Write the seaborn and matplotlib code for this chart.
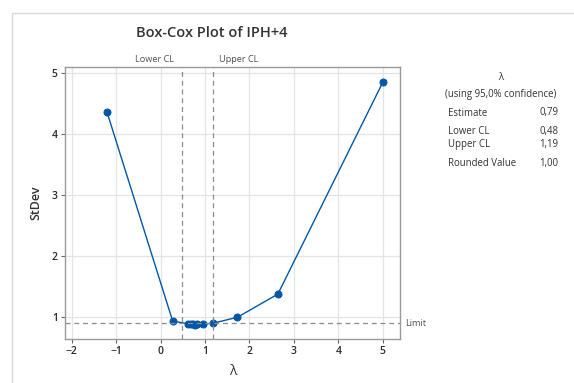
import matplotlib
matplotlib.use("Agg")
import matplotlib.pyplot as plt
import seaborn as sns
import pandas as pd
from matplotlib.patches import Rectangle

# Box-Cox search results: lambda vs. standard deviation of transformed data
lambdas = [-1.21, 0.27, 0.62, 0.68, 0.73, 0.77, 0.81, 0.95, 1.17, 1.73, 2.64, 5.00]
stdevs = [4.36, 0.93, 0.88, 0.875, 0.872, 0.871, 0.873, 0.88, 0.89, 0.99, 1.37, 4.84]

lower_cl = 0.48
upper_cl = 1.19
limit = 0.89

stats_labels = ["Estimate", "Lower CL", "Upper CL", "Rounded Value"]
stats_values = ["0,79", "0,48", "1,19", "1,00"]

x_ticks = [-2, -1, 0, 1, 2, 3, 4, 5]
y_ticks = [1, 2, 3, 4, 5]

sns.set_theme(style="white")
plt.rcParams["font.family"] = ["Open Sans", "DejaVu Sans"]

df = pd.DataFrame({"lambda": lambdas, "stdev": stdevs})

fig = plt.figure(figsize=(5.74, 3.83), dpi=100)
ax = fig.add_axes([0.1127, 0.115, 0.5842, 0.71])

blue = "#0057A8"
grey_txt = "#333333"
dash_col = "#8c8c8c"

sns.lineplot(data=df, x="lambda", y="stdev", ax=ax, color=blue, lw=1.0,
             marker="o", markersize=5, markeredgecolor=blue, sort=False)

ax.set_xlim(-2.16, 5.39)
ax.set_ylim(0.634, 5.093)
ax.set_xticks(x_ticks)
ax.set_yticks(y_ticks)
ax.grid(True, color="#e4e4e4", lw=0.9)
ax.set_axisbelow(True)

for side in ["left", "bottom", "right", "top"]:
    ax.spines[side].set_color("#9a9a9a")
    ax.spines[side].set_linewidth(1.0)

ax.tick_params(axis="both", which="both", length=3, width=0.8, color="#666666",
               labelsize=7.5, labelcolor="#2a2a2a", direction="out",
               left=True, bottom=True, pad=2)
for lab in ax.get_xticklabels() + ax.get_yticklabels():
    lab.set_fontweight("semibold")

# Confidence interval and limit reference lines
ax.axvline(lower_cl, color=dash_col, lw=0.9, ls=(0, (4, 3)))
ax.axvline(upper_cl, color=dash_col, lw=0.9, ls=(0, (4, 3)))
ax.axhline(limit, color=dash_col, lw=0.9, ls=(0, (4, 3)))

trans_x = ax.get_xaxis_transform()
ax.text(lower_cl - 0.17, 1.01, "Lower CL", transform=trans_x, ha="right", va="bottom",
        fontsize=6.6, color="#505050")
ax.text(upper_cl + 0.13, 1.01, "Upper CL", transform=trans_x, ha="left", va="bottom",
        fontsize=6.6, color="#505050")
ax.text(1.015, limit, "Limit", transform=ax.get_yaxis_transform(), ha="left", va="center",
        fontsize=6.6, color="#505050")

ax.set_xlabel("λ", fontsize=10, color=grey_txt, labelpad=5)
ax.set_ylabel("StDev", fontsize=9, color=grey_txt, fontweight="semibold", labelpad=7)

fig.text(212 / 574, 1 - 33 / 383, "Box-Cox Plot of IPH+4", ha="center", va="center",
         fontsize=10.5, color=grey_txt, fontweight="semibold")

# Summary panel on the right
fs = 6.9
fig.text(501 / 574, 1 - 77 / 383, "λ", ha="center", va="center", fontsize=fs, color=grey_txt)
fig.text(501 / 574, 1 - 95 / 383, "(using 95,0% confidence)", ha="center", va="center",
         fontsize=fs, color=grey_txt)
rows_y = [113, 131, 144, 164]
for lab, val, y in zip(stats_labels, stats_values, rows_y):
    fig.text(448 / 574, 1 - y / 383, lab, ha="left", va="center", fontsize=fs, color=grey_txt)
    fig.text(558 / 574, 1 - y / 383, val, ha="right", va="center", fontsize=fs, color=grey_txt)

# Light frame around the chart area
fig.patches.append(Rectangle((12 / 574, -0.1), 1.2, 1 - 13 / 383 + 0.1,
                             transform=fig.transFigure, fill=False,
                             edgecolor="#d9d9d9", lw=1.0, zorder=0))

fig.savefig("out.png", dpi=100)
